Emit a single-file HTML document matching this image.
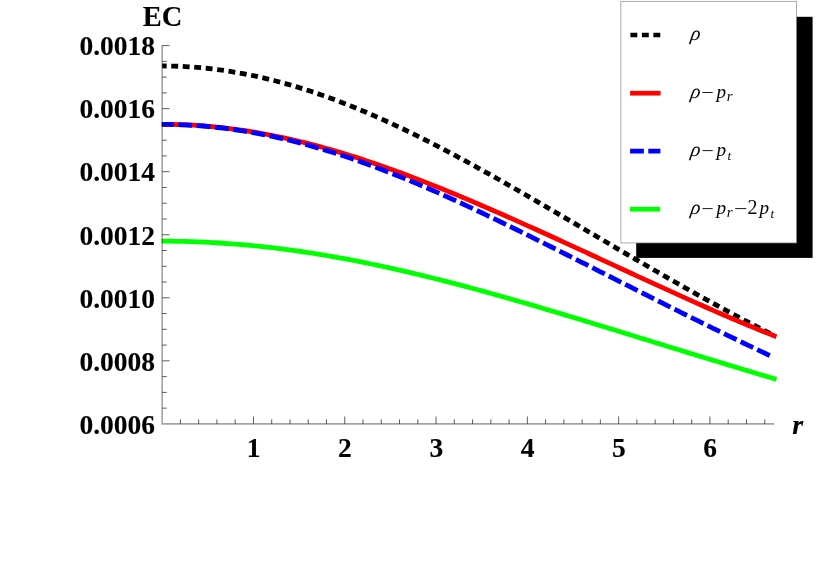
<!DOCTYPE html>
<html><head><meta charset="utf-8"><title>EC plot</title>
<style>
html,body{margin:0;padding:0;background:#fff;}
body{width:830px;height:562px;overflow:hidden;font-family:"Liberation Serif",serif;}
svg{display:block;will-change:transform;}
.lab text{font-family:"Liberation Serif",serif;font-weight:bold;font-size:27.5px;fill:#000;stroke:#000;stroke-width:0.12px;}
.leg text{font-family:"Liberation Serif",serif;font-style:italic;font-size:19.2px;fill:#000;}
.leg text.sub{font-size:15.0px;}
</style></head><body>
<svg width="830" height="562" viewBox="0 0 830 562">
<rect x="0" y="0" width="830" height="562" fill="#fff"/>
<clipPath id="cp"><rect x="161.6" y="0" width="700" height="562"/></clipPath>
<g fill="none" stroke-width="4.8" clip-path="url(#cp)">
<polyline points="162.15,65.96 166.00,65.98 169.85,66.03 173.70,66.12 177.55,66.24 181.40,66.40 185.25,66.60 189.10,66.82 192.94,67.09 196.79,67.39 200.64,67.72 204.49,68.09 208.34,68.49 212.19,68.93 216.04,69.40 219.89,69.90 223.74,70.44 227.59,71.02 231.44,71.62 235.29,72.26 239.14,72.94 242.99,73.65 246.84,74.39 250.69,75.16 254.53,75.97 258.38,76.81 262.23,77.68 266.08,78.58 269.93,79.52 273.78,80.48 277.63,81.48 281.48,82.51 285.33,83.57 289.18,84.66 293.03,85.78 296.88,86.92 300.73,88.10 304.58,89.31 308.43,90.55 312.28,91.81 316.12,93.11 319.97,94.43 323.82,95.78 327.67,97.15 331.52,98.56 335.37,99.98 339.22,101.44 343.07,102.92 346.92,104.43 350.77,105.96 354.62,107.51 358.47,109.09 362.32,110.70 366.17,112.32 370.02,113.97 373.87,115.65 377.71,117.34 381.56,119.06 385.41,120.80 389.26,122.55 393.11,124.33 396.96,126.13 400.81,127.95 404.66,129.79 408.51,131.65 412.36,133.52 416.21,135.41 420.06,137.32 423.91,139.25 427.76,141.19 431.61,143.15 435.46,145.13 439.30,147.12 443.15,149.13 447.00,151.15 450.85,153.18 454.70,155.23 458.55,157.29 462.40,159.36 466.25,161.45 470.10,163.55 473.95,165.66 477.80,167.78 481.65,169.91 485.50,172.05 489.35,174.20 493.20,176.36 497.05,178.53 500.89,180.70 504.74,182.89 508.59,185.08 512.44,187.28 516.29,189.49 520.14,191.70 523.99,193.92 527.84,196.15 531.69,198.38 535.54,200.61 539.39,202.85 543.24,205.10 547.09,207.34 550.94,209.60 554.79,211.85 558.64,214.11 562.48,216.37 566.33,218.63 570.18,220.89 574.03,223.16 577.88,225.42 581.73,227.69 585.58,229.95 589.43,232.22 593.28,234.49 597.13,236.75 600.98,239.02 604.83,241.28 608.68,243.54 612.53,245.80 616.38,248.06 620.23,250.32 624.07,252.57 627.92,254.82 631.77,257.07 635.62,259.31 639.47,261.55 643.32,263.79 647.17,266.02 651.02,268.25 654.87,270.47 658.72,272.69 662.57,274.90 666.42,277.11 670.27,279.31 674.12,281.50 677.97,283.69 681.82,285.88 685.66,288.05 689.51,290.22 693.36,292.38 697.21,294.53 701.06,296.68 704.91,298.81 708.76,300.94 712.61,303.06 716.46,305.17 720.31,307.27 724.16,309.37 728.01,311.45 731.86,313.52 735.71,315.58 739.56,317.63 743.41,319.67 747.25,321.70 751.10,323.71 754.95,325.72 758.80,327.71 762.65,329.69 766.50,331.65 770.35,333.60 774.20,335.54" stroke="#000" stroke-dasharray="6.9 4.6" stroke-dashoffset="2.4"/>
<polyline points="162.15,124.32 166.00,124.34 169.85,124.38 173.70,124.45 177.55,124.54 181.40,124.67 185.25,124.82 189.10,125.00 192.94,125.21 196.79,125.44 200.64,125.71 204.49,126.00 208.34,126.31 212.19,126.66 216.04,127.03 219.89,127.43 223.74,127.85 227.59,128.30 231.44,128.78 235.29,129.29 239.14,129.82 242.99,130.37 246.84,130.96 250.69,131.57 254.53,132.20 258.38,132.86 262.23,133.54 266.08,134.25 269.93,134.99 273.78,135.75 277.63,136.53 281.48,137.34 285.33,138.17 289.18,139.02 293.03,139.90 296.88,140.80 300.73,141.73 304.58,142.67 308.43,143.64 312.28,144.63 316.12,145.65 319.97,146.68 323.82,147.74 327.67,148.82 331.52,149.91 335.37,151.03 339.22,152.17 343.07,153.33 346.92,154.50 350.77,155.70 354.62,156.91 358.47,158.15 362.32,159.40 366.17,160.67 370.02,161.96 373.87,163.26 377.71,164.58 381.56,165.92 385.41,167.27 389.26,168.64 393.11,170.03 396.96,171.43 400.81,172.84 404.66,174.27 408.51,175.72 412.36,177.18 416.21,178.65 420.06,180.13 423.91,181.63 427.76,183.14 431.61,184.67 435.46,186.20 439.30,187.75 443.15,189.30 447.00,190.87 450.85,192.45 454.70,194.04 458.55,195.64 462.40,197.25 466.25,198.87 470.10,200.50 473.95,202.14 477.80,203.78 481.65,205.44 485.50,207.10 489.35,208.77 493.20,210.44 497.05,212.13 500.89,213.82 504.74,215.51 508.59,217.22 512.44,218.93 516.29,220.64 520.14,222.36 523.99,224.09 527.84,225.82 531.69,227.55 535.54,229.29 539.39,231.03 543.24,232.78 547.09,234.53 550.94,236.29 554.79,238.04 558.64,239.80 562.48,241.57 566.33,243.33 570.18,245.10 574.03,246.87 577.88,248.64 581.73,250.42 585.58,252.19 589.43,253.97 593.28,255.75 597.13,257.53 600.98,259.31 604.83,261.09 608.68,262.87 612.53,264.64 616.38,266.42 620.23,268.20 624.07,269.98 627.92,271.76 631.77,273.54 635.62,275.31 639.47,277.09 643.32,278.86 647.17,280.63 651.02,282.40 654.87,284.16 658.72,285.92 662.57,287.68 666.42,289.44 670.27,291.19 674.12,292.94 677.97,294.69 681.82,296.43 685.66,298.16 689.51,299.90 693.36,301.62 697.21,303.34 701.06,305.06 704.91,306.76 708.76,308.46 712.61,310.16 716.46,311.84 720.31,313.52 724.16,315.19 728.01,316.84 731.86,318.49 735.71,320.13 739.56,321.76 743.41,323.38 747.25,324.98 751.10,326.57 754.95,328.15 758.80,329.71 762.65,331.26 766.50,332.79 770.35,334.30 774.20,335.80" stroke="#f00" stroke-linecap="square"/>
<polyline points="162.15,124.41 166.00,124.42 169.85,124.47 173.70,124.54 177.55,124.65 181.40,124.78 185.25,124.95 189.10,125.14 192.94,125.36 196.79,125.62 200.64,125.90 204.49,126.21 208.34,126.55 212.19,126.92 216.04,127.32 219.89,127.75 223.74,128.21 227.59,128.69 231.44,129.21 235.29,129.75 239.14,130.32 242.99,130.92 246.84,131.55 250.69,132.21 254.53,132.89 258.38,133.60 262.23,134.34 266.08,135.11 269.93,135.90 273.78,136.72 277.63,137.57 281.48,138.44 285.33,139.34 289.18,140.26 293.03,141.21 296.88,142.19 300.73,143.19 304.58,144.21 308.43,145.26 312.28,146.34 316.12,147.44 319.97,148.56 323.82,149.70 327.67,150.87 331.52,152.06 335.37,153.28 339.22,154.51 343.07,155.77 346.92,157.05 350.77,158.35 354.62,159.67 358.47,161.01 362.32,162.38 366.17,163.76 370.02,165.16 373.87,166.58 377.71,168.02 381.56,169.48 385.41,170.96 389.26,172.46 393.11,173.97 396.96,175.50 400.81,177.05 404.66,178.61 408.51,180.19 412.36,181.78 416.21,183.40 420.06,185.02 423.91,186.66 427.76,188.32 431.61,189.99 435.46,191.67 439.30,193.37 443.15,195.07 447.00,196.80 450.85,198.53 454.70,200.27 458.55,202.03 462.40,203.80 466.25,205.58 470.10,207.37 473.95,209.17 477.80,210.98 481.65,212.79 485.50,214.62 489.35,216.46 493.20,218.30 497.05,220.15 500.89,222.01 504.74,223.88 508.59,225.76 512.44,227.64 516.29,229.52 520.14,231.42 523.99,233.32 527.84,235.22 531.69,237.13 535.54,239.04 539.39,240.96 543.24,242.89 547.09,244.81 550.94,246.74 554.79,248.68 558.64,250.61 562.48,252.55 566.33,254.49 570.18,256.44 574.03,258.39 577.88,260.33 581.73,262.28 585.58,264.23 589.43,266.19 593.28,268.14 597.13,270.09 600.98,272.04 604.83,274.00 608.68,275.95 612.53,277.91 616.38,279.86 620.23,281.81 624.07,283.76 627.92,285.71 631.77,287.66 635.62,289.61 639.47,291.55 643.32,293.50 647.17,295.44 651.02,297.38 654.87,299.32 658.72,301.25 662.57,303.19 666.42,305.12 670.27,307.05 674.12,308.97 677.97,310.89 681.82,312.81 685.66,314.73 689.51,316.64 693.36,318.55 697.21,320.45 701.06,322.35 704.91,324.25 708.76,326.14 712.61,328.03 716.46,329.92 720.31,331.80 724.16,333.68 728.01,335.55 731.86,337.42 735.71,339.28 739.56,341.14 743.41,342.99 747.25,344.84 751.10,346.68 754.95,348.52 758.80,350.35 762.65,352.18 766.50,354.00 770.35,355.82" stroke="#00f" stroke-dasharray="13.92 4.49" stroke-dashoffset="2.3"/>
<polyline points="162.15,241.18 166.00,241.19 169.85,241.21 173.70,241.25 177.55,241.31 181.40,241.38 185.25,241.47 189.10,241.58 192.94,241.70 196.79,241.84 200.64,241.99 204.49,242.16 208.34,242.35 212.19,242.55 216.04,242.77 219.89,243.01 223.74,243.26 227.59,243.52 231.44,243.81 235.29,244.10 239.14,244.42 242.99,244.75 246.84,245.09 250.69,245.45 254.53,245.83 258.38,246.22 262.23,246.62 266.08,247.05 269.93,247.48 273.78,247.93 277.63,248.40 281.48,248.88 285.33,249.37 289.18,249.88 293.03,250.41 296.88,250.95 300.73,251.50 304.58,252.07 308.43,252.65 312.28,253.24 316.12,253.85 319.97,254.47 323.82,255.11 327.67,255.75 331.52,256.42 335.37,257.09 339.22,257.78 343.07,258.48 346.92,259.19 350.77,259.92 354.62,260.65 358.47,261.40 362.32,262.17 366.17,262.94 370.02,263.73 373.87,264.52 377.71,265.33 381.56,266.15 385.41,266.98 389.26,267.82 393.11,268.67 396.96,269.54 400.81,270.41 404.66,271.29 408.51,272.19 412.36,273.09 416.21,274.00 420.06,274.93 423.91,275.86 427.76,276.80 431.61,277.75 435.46,278.71 439.30,279.68 443.15,280.65 447.00,281.64 450.85,282.63 454.70,283.63 458.55,284.64 462.40,285.65 466.25,286.68 470.10,287.71 473.95,288.75 477.80,289.79 481.65,290.84 485.50,291.90 489.35,292.96 493.20,294.04 497.05,295.11 500.89,296.19 504.74,297.28 508.59,298.38 512.44,299.47 516.29,300.58 520.14,301.69 523.99,302.80 527.84,303.92 531.69,305.04 535.54,306.17 539.39,307.30 543.24,308.44 547.09,309.58 550.94,310.72 554.79,311.87 558.64,313.02 562.48,314.17 566.33,315.33 570.18,316.48 574.03,317.65 577.88,318.81 581.73,319.98 585.58,321.15 589.43,322.32 593.28,323.49 597.13,324.67 600.98,325.84 604.83,327.02 608.68,328.20 612.53,329.38 616.38,330.56 620.23,331.75 624.07,332.93 627.92,334.12 631.77,335.30 635.62,336.49 639.47,337.68 643.32,338.86 647.17,340.05 651.02,341.24 654.87,342.42 658.72,343.61 662.57,344.80 666.42,345.98 670.27,347.17 674.12,348.36 677.97,349.54 681.82,350.72 685.66,351.91 689.51,353.09 693.36,354.27 697.21,355.45 701.06,356.63 704.91,357.80 708.76,358.98 712.61,360.15 716.46,361.33 720.31,362.50 724.16,363.67 728.01,364.83 731.86,366.00 735.71,367.16 739.56,368.32 743.41,369.48 747.25,370.64 751.10,371.79 754.95,372.94 758.80,374.09 762.65,375.24 766.50,376.38 770.35,377.52 774.20,378.66" stroke="#0f0" stroke-linecap="square"/>
</g>
<g stroke="#000" stroke-opacity="0.36" stroke-width="1.6" fill="none">
<path d="M162.15,45.2 V423.9 H774.2"/>
</g>
<g stroke="#000" stroke-opacity="0.85" stroke-width="0.75" fill="none">
<line x1="180.41" y1="423.90" x2="180.41" y2="419.30"/>
<line x1="198.67" y1="423.90" x2="198.67" y2="419.30"/>
<line x1="216.93" y1="423.90" x2="216.93" y2="419.30"/>
<line x1="235.19" y1="423.90" x2="235.19" y2="419.30"/>
<line x1="253.45" y1="423.90" x2="253.45" y2="416.50"/>
<line x1="271.71" y1="423.90" x2="271.71" y2="419.30"/>
<line x1="289.97" y1="423.90" x2="289.97" y2="419.30"/>
<line x1="308.23" y1="423.90" x2="308.23" y2="419.30"/>
<line x1="326.49" y1="423.90" x2="326.49" y2="419.30"/>
<line x1="344.75" y1="423.90" x2="344.75" y2="416.50"/>
<line x1="363.01" y1="423.90" x2="363.01" y2="419.30"/>
<line x1="381.27" y1="423.90" x2="381.27" y2="419.30"/>
<line x1="399.53" y1="423.90" x2="399.53" y2="419.30"/>
<line x1="417.79" y1="423.90" x2="417.79" y2="419.30"/>
<line x1="436.05" y1="423.90" x2="436.05" y2="416.50"/>
<line x1="454.31" y1="423.90" x2="454.31" y2="419.30"/>
<line x1="472.57" y1="423.90" x2="472.57" y2="419.30"/>
<line x1="490.83" y1="423.90" x2="490.83" y2="419.30"/>
<line x1="509.09" y1="423.90" x2="509.09" y2="419.30"/>
<line x1="527.35" y1="423.90" x2="527.35" y2="416.50"/>
<line x1="545.61" y1="423.90" x2="545.61" y2="419.30"/>
<line x1="563.87" y1="423.90" x2="563.87" y2="419.30"/>
<line x1="582.13" y1="423.90" x2="582.13" y2="419.30"/>
<line x1="600.39" y1="423.90" x2="600.39" y2="419.30"/>
<line x1="618.65" y1="423.90" x2="618.65" y2="416.50"/>
<line x1="636.91" y1="423.90" x2="636.91" y2="419.30"/>
<line x1="655.17" y1="423.90" x2="655.17" y2="419.30"/>
<line x1="673.43" y1="423.90" x2="673.43" y2="419.30"/>
<line x1="691.69" y1="423.90" x2="691.69" y2="419.30"/>
<line x1="709.95" y1="423.90" x2="709.95" y2="416.50"/>
<line x1="728.21" y1="423.90" x2="728.21" y2="419.30"/>
<line x1="746.47" y1="423.90" x2="746.47" y2="419.30"/>
<line x1="764.73" y1="423.90" x2="764.73" y2="419.30"/>
<line x1="162.15" y1="408.14" x2="166.75" y2="408.14"/>
<line x1="162.15" y1="392.38" x2="166.75" y2="392.38"/>
<line x1="162.15" y1="376.61" x2="166.75" y2="376.61"/>
<line x1="162.15" y1="360.85" x2="169.55" y2="360.85"/>
<line x1="162.15" y1="345.09" x2="166.75" y2="345.09"/>
<line x1="162.15" y1="329.32" x2="166.75" y2="329.32"/>
<line x1="162.15" y1="313.56" x2="166.75" y2="313.56"/>
<line x1="162.15" y1="297.80" x2="169.55" y2="297.80"/>
<line x1="162.15" y1="282.04" x2="166.75" y2="282.04"/>
<line x1="162.15" y1="266.27" x2="166.75" y2="266.27"/>
<line x1="162.15" y1="250.51" x2="166.75" y2="250.51"/>
<line x1="162.15" y1="234.75" x2="169.55" y2="234.75"/>
<line x1="162.15" y1="218.99" x2="166.75" y2="218.99"/>
<line x1="162.15" y1="203.22" x2="166.75" y2="203.22"/>
<line x1="162.15" y1="187.46" x2="166.75" y2="187.46"/>
<line x1="162.15" y1="171.70" x2="169.55" y2="171.70"/>
<line x1="162.15" y1="155.94" x2="166.75" y2="155.94"/>
<line x1="162.15" y1="140.18" x2="166.75" y2="140.18"/>
<line x1="162.15" y1="124.41" x2="166.75" y2="124.41"/>
<line x1="162.15" y1="108.65" x2="169.55" y2="108.65"/>
<line x1="162.15" y1="92.89" x2="166.75" y2="92.89"/>
<line x1="162.15" y1="77.12" x2="166.75" y2="77.12"/>
<line x1="162.15" y1="61.36" x2="166.75" y2="61.36"/>
<line x1="162.15" y1="45.60" x2="169.55" y2="45.60"/>
</g>
<g class="lab">
<text x="155.1" y="433.65" text-anchor="end">0.0006</text>
<text x="155.1" y="370.60" text-anchor="end">0.0008</text>
<text x="155.1" y="307.55" text-anchor="end">0.0010</text>
<text x="155.1" y="244.50" text-anchor="end">0.0012</text>
<text x="155.1" y="181.45" text-anchor="end">0.0014</text>
<text x="155.1" y="118.40" text-anchor="end">0.0016</text>
<text x="155.1" y="55.35" text-anchor="end">0.0018</text>
<text x="253.65" y="456.6" text-anchor="middle">1</text>
<text x="344.95" y="456.6" text-anchor="middle">2</text>
<text x="436.25" y="456.6" text-anchor="middle">3</text>
<text x="527.55" y="456.6" text-anchor="middle">4</text>
<text x="618.85" y="456.6" text-anchor="middle">5</text>
<text x="710.15" y="456.6" text-anchor="middle">6</text>
<text x="162.5" y="25.6" text-anchor="middle" style="font-size:28.4px">EC</text>
<text x="797.6" y="434.1" text-anchor="middle" style="font-style:italic;font-size:28.0px">r</text>
</g>
<rect x="636.2" y="16.8" width="176.4" height="241.1" fill="#000"/>
<rect x="620.9" y="1.3" width="175.55" height="241.65" fill="#fff" stroke="#888" stroke-width="0.7"/>
<g fill="none" stroke-width="4.7">
<line x1="630.4" y1="35.0" x2="660.3" y2="35.0" stroke="#000" stroke-dasharray="6.9 4.6"/>
<line x1="630.1" y1="93.2" x2="660.6" y2="93.2" stroke="#f00"/>
<line x1="630.1" y1="151.15" x2="660.4" y2="151.15" stroke="#00f" stroke-dasharray="13.75 4.45"/>
<line x1="629.9" y1="209.2" x2="660.2" y2="209.2" stroke="#0f0"/>
</g>
<g class="leg">
<text transform="translate(690.1,40.10) skewX(-9)" style="font-size:20.0px">ρ</text>
<text transform="translate(690.1,98.30) skewX(-9)" style="font-size:20.0px">ρ</text>
<line x1="702.4" y1="92.50" x2="712.7" y2="92.50" stroke="#000" stroke-width="0.9"/>
<text x="716.6" y="98.30">p</text>
<text x="726.8" y="100.70" class="sub" style="font-size:15.0px">r</text>
<text transform="translate(690.1,156.40) skewX(-9)" style="font-size:20.0px">ρ</text>
<line x1="702.4" y1="150.60" x2="712.7" y2="150.60" stroke="#000" stroke-width="0.9"/>
<text x="716.6" y="156.40">p</text>
<text x="727.4" y="159.50" class="sub" style="font-size:13.0px">t</text>
<text transform="translate(690.1,214.40) skewX(-9)" style="font-size:20.0px">ρ</text>
<line x1="702.4" y1="208.60" x2="712.7" y2="208.60" stroke="#000" stroke-width="0.9"/>
<text x="716.6" y="214.40">p</text>
<text x="726.8" y="216.80" class="sub" style="font-size:15.0px">r</text>
<line x1="735.2" y1="208.60" x2="746.3" y2="208.60" stroke="#000" stroke-width="0.9"/>
<text x="747.6" y="214.40" style="font-size:20.0px;font-style:normal">2</text>
<text x="759.6" y="214.40">p</text>
<text x="770.6" y="217.50" class="sub" style="font-size:13px">t</text>
</g>
</svg>
</body></html>
